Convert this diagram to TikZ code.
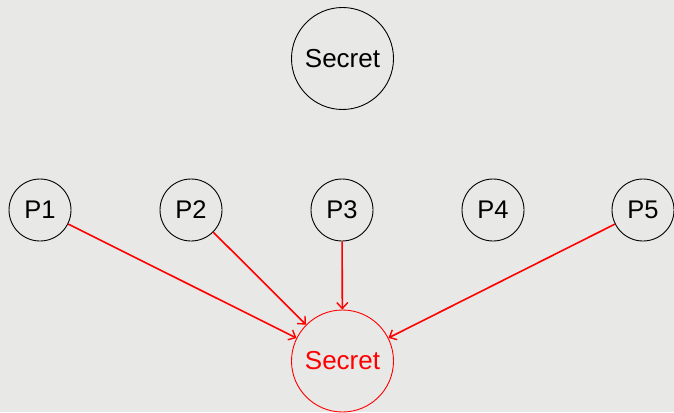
\documentclass[tikz,border=0pt]{standalone}
\usepackage{fontspec}
\setmainfont{Liberation Sans}
\usetikzlibrary{arrows.meta}
\definecolor{bg}{RGB}{232,232,231}
\definecolor{myred}{RGB}{255,0,0}
\begin{document}
\begin{tikzpicture}[x=1pt,y=-1pt,
  bigc/.style={circle,draw=black,line width=0.9pt,minimum size=102pt,inner sep=0pt,font=\fontsize{26}{26}\selectfont},
  smallc/.style={circle,draw=black,line width=0.9pt,minimum size=62pt,inner sep=0pt,font=\fontsize{25.5}{25.5}\selectfont},
  redc/.style={bigc,draw=myred,text=myred},
  redarrow/.style={draw=myred,line width=1.6pt,-{Straight Barb[length=6pt,width=11pt,line width=1.4pt]}}]
\fill[bg] (0,0) rectangle (674,412);
\useasboundingbox (0,0) rectangle (674,412);
\node[bigc] (s1) at (342.5,58.5) {Secret};
\node[smallc] (p1) at (40,210) {P1};
\node[smallc] (p2) at (191,210) {P2};
\node[smallc] (p3) at (342,210) {P3};
\node[smallc] (p4) at (493,210) {P4};
\node[smallc] (p5) at (643,210) {P5};
\node[redc] (s2) at (342.5,361) {Secret};
\draw[redarrow] (p1) -- (s2);
\draw[redarrow] (p2) -- (s2);
\draw[redarrow] (p3) -- (s2);
\draw[redarrow] (p5) -- (s2);
\end{tikzpicture}
\end{document}
